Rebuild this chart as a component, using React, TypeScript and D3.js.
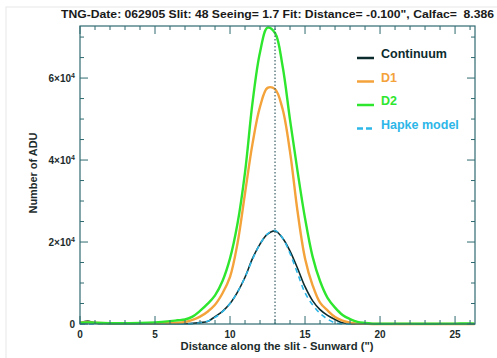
import React, { useEffect, useRef } from 'react';
import * as d3 from 'd3';

// distance along slit (arcsec)
const distance = [0, 0.5, 1, 2, 3, 4, 5, 6, 6.5, 7, 7.5, 8, 8.5, 9, 9.5, 10, 10.5, 11, 11.5, 12, 12.5, 13, 13.5, 14, 14.5, 15, 15.5, 16, 16.5, 17, 17.5, 18, 18.5, 19, 19.5, 20, 21, 22, 23, 24, 25, 26, 26.3];

const continuum = [200, 700, 300, 100, 50, 50, 50, 50, 50, 60, 150, 350, 600, 1800, 3100, 5000, 7800, 11400, 16000, 19500, 21900, 22700, 21000, 17800, 13600, 9100, 5700, 3500, 2100, 1100, 300, 100, 0, 0, 0, 0, 0, 0, 0, 0, 0, 0, 0];
const d1 = [300, 500, 300, 150, 150, 150, 200, 250, 300, 500, 1000, 1800, 3000, 4700, 7500, 11500, 19700, 31900, 44000, 53000, 57600, 57300, 52500, 42000, 27500, 16000, 9500, 5200, 3300, 1700, 800, 300, 100, 50, 0, 0, 0, 0, 0, 0, 0, 0, 0];
const d2 = [300, 400, 300, 200, 200, 250, 400, 700, 900, 1100, 1800, 3200, 4900, 7000, 10500, 16000, 24500, 37000, 54000, 66300, 72300, 71000, 63000, 49800, 37300, 25800, 16500, 10500, 6400, 4000, 2200, 1200, 500, 250, 100, 50, 80, 100, 60, 80, 100, 120, 100];
const hapke = [0, 0, 0, 0, 0, 0, 0, 0, 0, 0, 100, 300, 700, 1600, 3000, 5000, 7800, 11400, 15800, 19500, 22000, 22800, 21000, 17200, 12400, 7600, 4700, 2600, 1200, 300, 50, 0, 0, 0, 0, 0, 0, 0, 0, 0, 0, 0, 0];

const xMajor = [0, 5, 10, 15, 20, 25];
const yMajor = [0, 20000, 40000, 60000];
const yMajorLabels = ['0', '2', '4', '6'];

const legendItems = [
  { name: 'Continuum', color: '#0c2b2d', dash: null },
  { name: 'D1', color: '#f4a23a', dash: null },
  { name: 'D2', color: '#2ee62e', dash: null },
  { name: 'Hapke model', color: '#2db6e8', dash: '6,3' },
];

const title = 'TNG-Date: 062905 Slit: 48 Seeing= 1.7 Fit: Distance= -0.100", Calfac=  8.386';

const App = () => {
  const svgRef = useRef<SVGSVGElement>(null);

  useEffect(() => {
    const svg = d3.select(svgRef.current);
    svg.selectAll('*').remove();

    const left = 80, right = 475, top = 26, bottom = 324;
    const axisColor = '#2f6a70';
    const textColor = '#1c2c2c';
    const font = '"Liberation Sans", Arial, sans-serif';

    const x = d3.scaleLinear().domain([0, 26.33]).range([left, right]);
    const y = d3.scaleLinear().domain([0, 72700]).range([bottom, top]);

    svg.append('rect')
      .attr('x', 6).attr('y', 7).attr('width', 520).attr('height', 400)
      .attr('fill', 'none').attr('stroke', '#e8e8e8');

    // title
    svg.append('text')
      .attr('x', 61).attr('y', 18)
      .attr('textLength', 433).attr('lengthAdjust', 'spacingAndGlyphs')
      .attr('font-family', font).attr('font-size', 11).attr('font-weight', 'bold')
      .attr('fill', '#1a1a1a')
      .style('white-space', 'pre')
      .text(title);

    const g = svg.append('g');

    // data lines
    const series = [
      { values: continuum, color: '#0c2b2d', width: 1.6, dash: null },
      { values: hapke, color: '#2db6e8', width: 1.6, dash: '5,4' },
      { values: d1, color: '#f4a23a', width: 2.4, dash: null },
      { values: d2, color: '#2ee62e', width: 2.4, dash: null },
    ];
    const line = d3.line<number>()
      .x((_, i) => x(distance[i]))
      .y(d => y(d))
      .curve(d3.curveCatmullRom.alpha(0.5));
    series.forEach(s => {
      g.append('path')
        .attr('d', line(s.values))
        .attr('fill', 'none')
        .attr('stroke', s.color)
        .attr('stroke-width', s.width)
        .attr('stroke-dasharray', s.dash)
        .attr('stroke-linejoin', 'round');
    });

    // dotted center line
    g.append('line')
      .attr('x1', x(13)).attr('x2', x(13))
      .attr('y1', y(0)).attr('y2', y(72700))
      .attr('stroke', '#3a5f66').attr('stroke-width', 1.2)
      .attr('stroke-dasharray', '1.5,2');

    // frame
    g.append('rect')
      .attr('x', left).attr('y', top)
      .attr('width', right - left).attr('height', bottom - top)
      .attr('fill', 'none').attr('stroke', axisColor).attr('stroke-width', 1.2);

    // x ticks (bottom and top)
    d3.range(0, 27, 1).forEach(v => {
      const len = v % 5 === 0 ? 8 : 4;
      g.append('line').attr('x1', x(v)).attr('x2', x(v))
        .attr('y1', bottom).attr('y2', bottom - len)
        .attr('stroke', axisColor).attr('stroke-width', 1);
      g.append('line').attr('x1', x(v)).attr('x2', x(v))
        .attr('y1', top).attr('y2', top + len)
        .attr('stroke', axisColor).attr('stroke-width', 1);
    });
    // y ticks (left and right)
    d3.range(0, 72701, 5000).forEach(v => {
      const len = v % 20000 === 0 ? 8 : 4;
      g.append('line').attr('x1', left).attr('x2', left + len)
        .attr('y1', y(v)).attr('y2', y(v))
        .attr('stroke', axisColor).attr('stroke-width', 1);
      g.append('line').attr('x1', right).attr('x2', right - len)
        .attr('y1', y(v)).attr('y2', y(v))
        .attr('stroke', axisColor).attr('stroke-width', 1);
    });

    // x tick labels
    xMajor.forEach(v => {
      svg.append('text')
        .attr('x', x(v)).attr('y', 338)
        .attr('text-anchor', 'middle')
        .attr('font-family', font).attr('font-size', 10).attr('font-weight', 'bold')
        .attr('fill', textColor)
        .text(v);
    });

    // y tick labels
    yMajor.forEach((v, i) => {
      const t = svg.append('text')
        .attr('x', 75).attr('y', y(v) + 4)
        .attr('text-anchor', 'end')
        .attr('font-family', font).attr('font-size', 10).attr('font-weight', 'bold')
        .attr('fill', textColor);
      if (v === 0) {
        t.text('0');
      } else {
        t.append('tspan').text(`${yMajorLabels[i]}×10`);
        t.append('tspan').attr('dy', -4).attr('font-size', 7).text('4');
      }
    });

    // axis titles
    svg.append('text')
      .attr('x', 277).attr('y', 350)
      .attr('text-anchor', 'middle')
      .attr('textLength', 193).attr('lengthAdjust', 'spacingAndGlyphs')
      .attr('font-family', font).attr('font-size', 10).attr('font-weight', 'bold')
      .attr('fill', textColor)
      .text('Distance along the slit - Sunward (")');

    svg.append('text')
      .attr('transform', 'translate(37,173) rotate(-90)')
      .attr('text-anchor', 'middle')
      .attr('textLength', 81).attr('lengthAdjust', 'spacingAndGlyphs')
      .attr('font-family', font).attr('font-size', 10).attr('font-weight', 'bold')
      .attr('fill', textColor)
      .text('Number of ADU');

    // legend
    legendItems.forEach((d, i) => {
      const ly = 58 + i * 23.5;
      svg.append('line')
        .attr('x1', 357).attr('x2', 374)
        .attr('y1', ly).attr('y2', ly)
        .attr('stroke', d.color).attr('stroke-width', 2.5)
        .attr('stroke-dasharray', d.dash);
      svg.append('text')
        .attr('x', 381).attr('y', ly)
        .attr('font-family', font).attr('font-size', 12.5).attr('font-weight', 'bold')
        .attr('fill', d.color)
        .text(d.name);
    });
  }, []);

  return (
    <svg
      ref={svgRef}
      width={497}
      height={358}
      style={{ position: 'absolute', left: 0, top: 0, background: '#fff' }}
    />
  );
};

export default App;
